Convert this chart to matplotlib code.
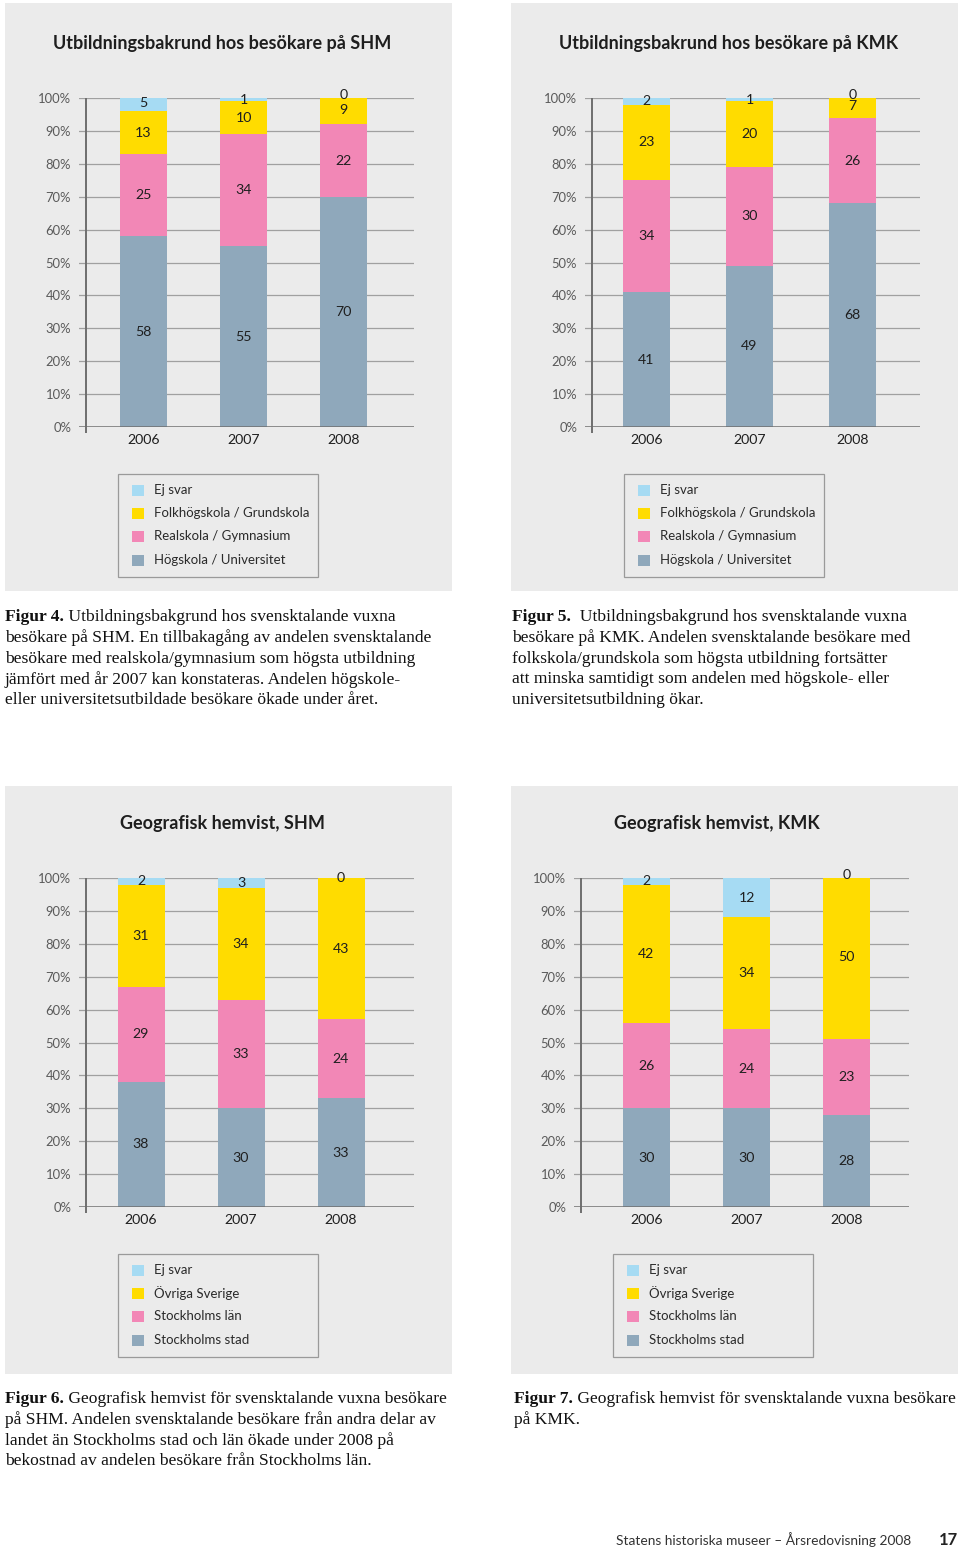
import matplotlib
matplotlib.use("Agg")
import matplotlib.pyplot as plt
from matplotlib.patches import Rectangle

# ---------------- data ----------------
years = ["2006", "2007", "2008"]

edu_labels = ["Ej svar", "Folkhögskola / Grundskola", "Realskola / Gymnasium", "Högskola / Universitet"]
geo_labels = ["Ej svar", "Övriga Sverige", "Stockholms län", "Stockholms stad"]

# SHM education (bottom -> top: Högskola, Realskola, Folkhögskola, Ej svar)
shm_edu_hogskola = [58, 55, 70]
shm_edu_realskola = [25, 34, 22]
shm_edu_folk = [13, 10, 9]
shm_edu_ej = [5, 1, 0]

# KMK education
kmk_edu_hogskola = [41, 49, 68]
kmk_edu_realskola = [34, 30, 26]
kmk_edu_folk = [23, 20, 7]
kmk_edu_ej = [2, 1, 0]

# SHM geography (bottom -> top: Stockholms stad, Stockholms län, Övriga Sverige, Ej svar)
shm_geo_stad = [38, 30, 33]
shm_geo_lan = [29, 33, 24]
shm_geo_ovriga = [31, 34, 43]
shm_geo_ej = [2, 3, 0]

# KMK geography
kmk_geo_stad = [30, 30, 28]
kmk_geo_lan = [26, 24, 23]
kmk_geo_ovriga = [42, 34, 50]
kmk_geo_ej = [2, 12, 0]

yticks = list(range(0, 101, 10))
ytick_labels = [f"{v}%" for v in yticks]

titles = ["Utbildningsbakrund hos besökare på SHM",
          "Utbildningsbakrund hos besökare på KMK",
          "Geografisk hemvist, SHM",
          "Geografisk hemvist, KMK"]

captions = [
    ("Figur 4.", " Utbildningsbakgrund hos svensktalande vuxna",
     ["besökare på SHM. En tillbakagång av andelen svensktalande",
      "besökare med realskola/gymnasium som högsta utbildning",
      "jämfört med år 2007 kan konstateras. Andelen högskole-",
      "eller universitetsutbildade besökare ökade under året."]),
    ("Figur 5.", "  Utbildningsbakgrund hos svensktalande vuxna",
     ["besökare på KMK. Andelen svensktalande besökare med",
      "folkskola/grundskola som högsta utbildning fortsätter",
      "att minska samtidigt som andelen med högskole- eller",
      "universitetsutbildning ökar."]),
    ("Figur 6.", " Geografisk hemvist för svensktalande vuxna besökare",
     ["på SHM. Andelen svensktalande besökare från andra delar av",
      "landet än Stockholms stad och län ökade under 2008 på",
      "bekostnad av andelen besökare från Stockholms län."]),
    ("Figur 7.", " Geografisk hemvist för svensktalande vuxna besökare",
     ["på KMK."]),
]

footer_text = "Statens historiska museer – Årsredovisning 2008"
page_number = "17"

# ---------------- style ----------------
C_EJ = "#a6dbf3"
C_YEL = "#ffdc00"
C_PINK = "#f287b6"
C_GRAY = "#8fa8bb"
BG = "#ebebeb"
colors_bottom_up = [C_GRAY, C_PINK, C_YEL, C_EJ]
legend_colors = [C_EJ, C_YEL, C_PINK, C_GRAY]

SANS = ["Lato", "DejaVu Sans"]
SERIF = ["Liberation Serif", "DejaVu Serif"]

W, H = 960, 1550
fig = plt.figure(figsize=(W / 100, H / 100), dpi=100)
fig.patch.set_facecolor("white")

# overlay axes in pixel coordinates for page furniture
bg = fig.add_axes([0, 0, 1, 1])
bg.set_xlim(0, W)
bg.set_ylim(H, 0)
bg.axis("off")

panels = [
    dict(box=(5, 3, 452, 591), title_x=222, title_y=44,
         spine=86, c0=143.5, step=100, gend=414, top=98, bot=427,
         series=[shm_edu_hogskola, shm_edu_realskola, shm_edu_folk, shm_edu_ej],
         legend_box=(118, 474, 318, 577), sq_x=132, txt_x=154,
         rows=[490, 513, 536, 560], labels=edu_labels,
         cap_x=5, cap_y=617),
    dict(box=(511, 3, 958, 591), title_x=728.5, title_y=44,
         spine=592, c0=646.5, step=103, gend=920, top=98, bot=427,
         series=[kmk_edu_hogskola, kmk_edu_realskola, kmk_edu_folk, kmk_edu_ej],
         legend_box=(624, 474, 824, 577), sq_x=638, txt_x=660,
         rows=[490, 513, 536, 560], labels=edu_labels,
         cap_x=512, cap_y=617),
    dict(box=(5, 786, 452, 1374), title_x=222, title_y=824,
         spine=86, c0=141, step=100, gend=414, top=878, bot=1207,
         series=[shm_geo_stad, shm_geo_lan, shm_geo_ovriga, shm_geo_ej],
         legend_box=(118, 1254, 318, 1357), sq_x=132, txt_x=154,
         rows=[1270, 1293, 1316, 1340], labels=geo_labels,
         cap_x=5, cap_y=1399),
    dict(box=(511, 786, 958, 1374), title_x=717, title_y=824,
         spine=581, c0=646.5, step=100, gend=909, top=878, bot=1207,
         series=[kmk_geo_stad, kmk_geo_lan, kmk_geo_ovriga, kmk_geo_ej],
         legend_box=(613, 1254, 813, 1357), sq_x=627, txt_x=649,
         rows=[1270, 1293, 1316, 1340], labels=geo_labels,
         cap_x=514, cap_y=1399),
]

for i, p in enumerate(panels):
    x0, y0, x1, y1 = p["box"]
    bg.add_patch(Rectangle((x0, y0), x1 - x0, y1 - y0, facecolor=BG, edgecolor="none", zorder=0))
    bg.text(p["title_x"], p["title_y"], titles[i], ha="center", va="center",
            fontsize=12.95, fontweight="bold", family=SANS, color="#1e1e1e", zorder=2)

    # legend
    lx0, ly0, lx1, ly1 = p["legend_box"]
    bg.add_patch(Rectangle((lx0, ly0), lx1 - lx0, ly1 - ly0, facecolor=BG,
                           edgecolor="#9a9a9a", linewidth=0.9, zorder=1))
    for lab, col, ry in zip(p["labels"], legend_colors, p["rows"]):
        bg.add_patch(Rectangle((p["sq_x"], ry - 5.5), 12, 11, facecolor=col,
                               edgecolor="none", zorder=2))
        bg.text(p["txt_x"], ry, lab, ha="left", va="center", fontsize=9.5,
                family=SANS, color="#2a2a2a", zorder=2)

    # chart axes
    left_px = p["spine"] - 7
    ax = fig.add_axes([left_px / W, 1 - p["bot"] / H,
                       (p["gend"] - left_px) / W, (p["bot"] - p["top"]) / H])
    ax.patch.set_alpha(0)
    xmin = (left_px - p["c0"]) / p["step"]
    xmax = (p["gend"] - p["c0"]) / p["step"]
    sx = (p["spine"] - p["c0"]) / p["step"]
    ax.set_xlim(xmin, xmax)
    ax.set_ylim(0, 100)
    for s in ax.spines.values():
        s.set_visible(False)
    for v in yticks[1:]:
        ax.axhline(v, color="#a0a0a0", linewidth=0.9, zorder=1)
    ax.axhline(0, color="#6e6e6e", linewidth=1.8, zorder=4)
    ax.plot([sx, sx], [-1.9, 100], color="#6e6e6e", linewidth=1.4,
            clip_on=False, zorder=4, solid_capstyle="butt")

    width = 47 / p["step"]
    xs = list(range(len(years)))
    bottoms = [0] * len(years)
    for vals, col in zip(p["series"], colors_bottom_up):
        ax.bar(xs, vals, width=width, bottom=bottoms, color=col, zorder=2,
               linewidth=0)
        for xi, v, b in zip(xs, vals, bottoms):
            ax.text(xi, b + v / 2, str(v), ha="center", va="center",
                    fontsize=10.2, family=SANS, color="#1f1f1f", zorder=5,
                    clip_on=False)
        bottoms = [b + v for b, v in zip(bottoms, vals)]

    ax.set_yticks(yticks)
    ax.set_yticklabels(ytick_labels, family=SANS, fontsize=9.4, color="#5a5a5a")
    ax.set_xticks(xs)
    ax.set_xticklabels(years, family=SANS, fontsize=10.2, color="#1f1f1f")
    ax.tick_params(axis="y", length=0, pad=5.6)
    ax.tick_params(axis="x", length=0, pad=5.4)

    # caption
    bold, rest, lines = captions[i]
    cx, cy = p["cap_x"], p["cap_y"]
    tb = bg.text(cx, cy, bold, ha="left", va="center", fontsize=12.6,
                 fontweight="bold", family=SERIF, color="#111111")
    bg.annotate(rest, xy=(1, 0.5), xycoords=tb, ha="left", va="center",
                fontsize=12.6, family=SERIF, color="#111111")
    for k, line in enumerate(lines):
        bg.text(cx, cy + 20.8 * (k + 1), line, ha="left", va="center",
                fontsize=12.6, family=SERIF, color="#111111")

# footer
bg.text(911, 1540, footer_text, ha="right", va="center", fontsize=9.9,
        family=SANS, color="#333333")
bg.text(958, 1540, page_number, ha="right", va="center", fontsize=12,
        fontweight="bold", family=SANS, color="#222222")

fig.savefig("out.png", dpi=100, facecolor="white")
